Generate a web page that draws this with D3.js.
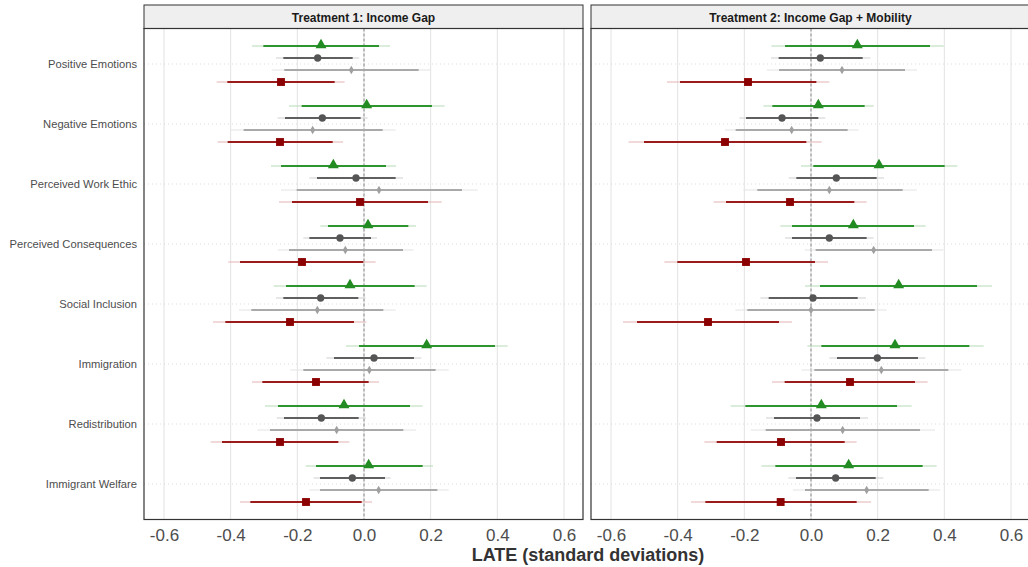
<!DOCTYPE html>
<html><head><meta charset="utf-8">
<script src="https://cdn.jsdelivr.net/npm/d3@7/dist/d3.min.js"></script>
<style>body{margin:0;background:#fff}</style></head>
<body><svg id="c" width="1028" height="567"></svg>
<script>
const categories = ["Positive Emotions","Negative Emotions","Perceived Work Ethic","Perceived Consequences","Social Inclusion","Immigration","Redistribution","Immigrant Welfare"];
const panels = ["Treatment 1: Income Gap","Treatment 2: Income Gap + Mobility"];
const xTicks = [-0.6,-0.4,-0.2,0,0.2,0.4,0.6];
const xTitle = "LATE (standard deviations)";
// each row: [estimate, lo90, hi90, lo95, hi95], one row per category
const t1Green = [[-0.129,-0.302,0.045,-0.336,0.078],[0.008,-0.187,0.204,-0.225,0.242],[-0.092,-0.249,0.066,-0.279,0.096],[0.012,-0.108,0.133,-0.131,0.156],[-0.042,-0.234,0.152,-0.271,0.188],[0.188,-0.015,0.393,-0.054,0.431],[-0.060,-0.258,0.138,-0.297,0.176],[0.014,-0.144,0.176,-0.175,0.207]];
const t1Dark  = [[-0.139,-0.242,-0.034,-0.264,-0.014],[-0.125,-0.237,-0.010,-0.259,0.011],[-0.024,-0.141,0.095,-0.164,0.117],[-0.072,-0.164,0.021,-0.182,0.039],[-0.130,-0.242,-0.017,-0.264,0.005],[0.030,-0.090,0.150,-0.113,0.172],[-0.128,-0.240,-0.016,-0.262,0.006],[-0.035,-0.132,0.063,-0.151,0.080]];
const t1Light = [[-0.038,-0.239,0.164,-0.277,0.201],[-0.154,-0.361,0.056,-0.402,0.095],[0.045,-0.202,0.294,-0.249,0.341],[-0.056,-0.225,0.117,-0.259,0.149],[-0.140,-0.338,0.058,-0.375,0.095],[0.016,-0.182,0.215,-0.221,0.254],[-0.082,-0.282,0.118,-0.320,0.156],[0.044,-0.132,0.220,-0.164,0.254]];
const t1Red   = [[-0.249,-0.410,-0.088,-0.442,-0.058],[-0.252,-0.409,-0.094,-0.439,-0.063],[-0.012,-0.216,0.192,-0.255,0.233],[-0.186,-0.372,-0.002,-0.407,0.035],[-0.222,-0.416,-0.030,-0.453,0.007],[-0.144,-0.305,0.014,-0.336,0.045],[-0.252,-0.426,-0.077,-0.460,-0.044],[-0.174,-0.341,-0.007,-0.372,0.024]];
const t2Green = [[0.139,-0.078,0.357,-0.119,0.398],[0.022,-0.116,0.161,-0.143,0.188],[0.204,0.007,0.401,-0.030,0.439],[0.127,-0.057,0.309,-0.092,0.344],[0.263,0.027,0.498,-0.018,0.543],[0.252,0.031,0.475,-0.011,0.518],[0.031,-0.197,0.258,-0.241,0.302],[0.113,-0.107,0.335,-0.149,0.377]];
const t2Dark  = [[0.028,-0.097,0.155,-0.120,0.178],[-0.087,-0.195,0.022,-0.215,0.043],[0.076,-0.044,0.197,-0.067,0.219],[0.055,-0.057,0.167,-0.078,0.188],[0.006,-0.127,0.140,-0.152,0.165],[0.199,0.078,0.321,0.055,0.343],[0.018,-0.111,0.147,-0.135,0.171],[0.074,-0.045,0.194,-0.068,0.217]];
const t2Light = [[0.093,-0.096,0.282,-0.132,0.318],[-0.058,-0.226,0.110,-0.258,0.143],[0.055,-0.161,0.275,-0.203,0.317],[0.188,0.014,0.363,-0.019,0.397],[0.000,-0.191,0.191,-0.227,0.227],[0.211,0.010,0.412,-0.029,0.451],[0.095,-0.136,0.327,-0.181,0.372],[0.167,-0.018,0.353,-0.054,0.388]];
const t2Red   = [[-0.189,-0.393,0.016,-0.432,0.055],[-0.258,-0.501,-0.014,-0.547,0.032],[-0.063,-0.255,0.130,-0.292,0.167],[-0.195,-0.401,0.012,-0.440,0.051],[-0.309,-0.522,-0.096,-0.564,-0.057],[0.117,-0.079,0.312,-0.117,0.350],[-0.090,-0.283,0.101,-0.320,0.137],[-0.091,-0.317,0.137,-0.360,0.180]];

const panelData = [[t1Green,t1Dark,t1Light,t1Red],[t2Green,t2Dark,t2Light,t2Red]];
const styles = [
  {thick:"#2e942e", thin:"#b5dcb5", fill:"#228B22", shape:d3.symbolTriangle, size:52},
  {thick:"#5f5f5f", thin:"#cfcfcf", fill:"#555555", shape:d3.symbolCircle, size:42},
  {thick:"#a9a9a9", thin:"#e3e3e3", fill:"#a0a0a0", shape:d3.symbolDiamond, size:22},
  {thick:"#9b1a1a", thin:"#e6b4b4", fill:"#8B0000", shape:d3.symbolSquare, size:62}
];

const svg = d3.select("#c");
const plotTop = 28.5, plotBot = 519.5;
const panelRanges = [[144,583],[591,1030]];
const y = d3.scalePoint().domain(categories).range([64,484]);
const offsets = [-18,-6,6,18];
const sansFont = "Liberation Sans, Arial, Helvetica, sans-serif";

panels.forEach((title, p) => {
  const [x0,x1] = panelRanges[p];
  const x = d3.scaleLinear().domain([-0.66,0.657]).range([x0,x1]);
  const g = svg.append("g");
  // strip
  g.append("rect").attr("x",x0).attr("y",5).attr("width",x1-x0).attr("height",plotTop-5)
    .attr("fill","#efefef").attr("stroke","#333").attr("stroke-width",1);
  g.append("text").attr("x",(x0+x1)/2).attr("y",21.5).attr("text-anchor","middle")
    .attr("font-family",sansFont).attr("font-weight","bold")
    .attr("font-size",12).attr("fill","#1a1a1a").text(title);
  // grid
  g.selectAll(".vg").data(xTicks).enter().append("line")
    .attr("x1",d=>x(d)).attr("x2",d=>x(d)).attr("y1",plotTop).attr("y2",plotBot)
    .attr("stroke","#e2e2e2").attr("stroke-width",1);
  g.selectAll(".hg").data(categories).enter().append("line")
    .attr("x1",x0).attr("x2",x1).attr("y1",d=>y(d)).attr("y2",d=>y(d))
    .attr("stroke","#d6d6d6").attr("stroke-width",0.8).attr("stroke-dasharray","1,3");
  g.append("line").attr("x1",x(0)).attr("x2",x(0)).attr("y1",plotTop).attr("y2",plotBot)
    .attr("stroke","#888").attr("stroke-width",1).attr("stroke-dasharray","3,2");
  // series
  panelData[p].forEach((rows, s) => {
    const st = styles[s];
    const gs = g.append("g");
    rows.forEach((r, i) => {
      const yy = y(categories[i]) + offsets[s];
      gs.append("line").attr("x1",x(r[3])).attr("x2",x(r[4])).attr("y1",yy).attr("y2",yy)
        .attr("stroke",st.thin).attr("stroke-width",1.2);
      gs.append("line").attr("x1",x(r[1])).attr("x2",x(r[2])).attr("y1",yy).attr("y2",yy)
        .attr("stroke",st.thick).attr("stroke-width",2);
      gs.append("path").attr("d",d3.symbol().type(st.shape).size(st.size)())
        .attr("transform",`translate(${x(r[0])},${yy - (s===0?1:0)})`).attr("fill",st.fill);
    });
  });
  // border
  g.append("rect").attr("x",x0).attr("y",plotTop).attr("width",x1-x0).attr("height",plotBot-plotTop)
    .attr("fill","none").attr("stroke","#333").attr("stroke-width",1.2);
  // x axis
  const ax = g.append("g").attr("transform",`translate(0,${plotBot})`)
    .call(d3.axisBottom(x).tickValues(xTicks).tickFormat(d3.format(".1f")).tickSize(0).tickPadding(9));
  ax.select(".domain").remove();
  ax.selectAll("line").remove();
  ax.selectAll("text").attr("font-family",sansFont)
    .attr("font-size",17).attr("fill","#4d4d4d")
    .text(d=>d3.format(".1f")(d).replace("−","-"));
});

// y labels
svg.append("g").selectAll("text").data(categories).enter().append("text")
  .attr("x",137).attr("y",d=>y(d)+4).attr("text-anchor","end")
  .attr("font-family",sansFont).attr("font-size",11.2)
  .attr("fill","#4d4d4d").text(d=>d);

svg.append("text").attr("text-anchor","middle")
  .attr("x",588).attr("y",561)
  .attr("font-family",sansFont).attr("font-weight","bold")
  .attr("font-size",18).attr("fill","#333").text(xTitle);
</script></body></html>
